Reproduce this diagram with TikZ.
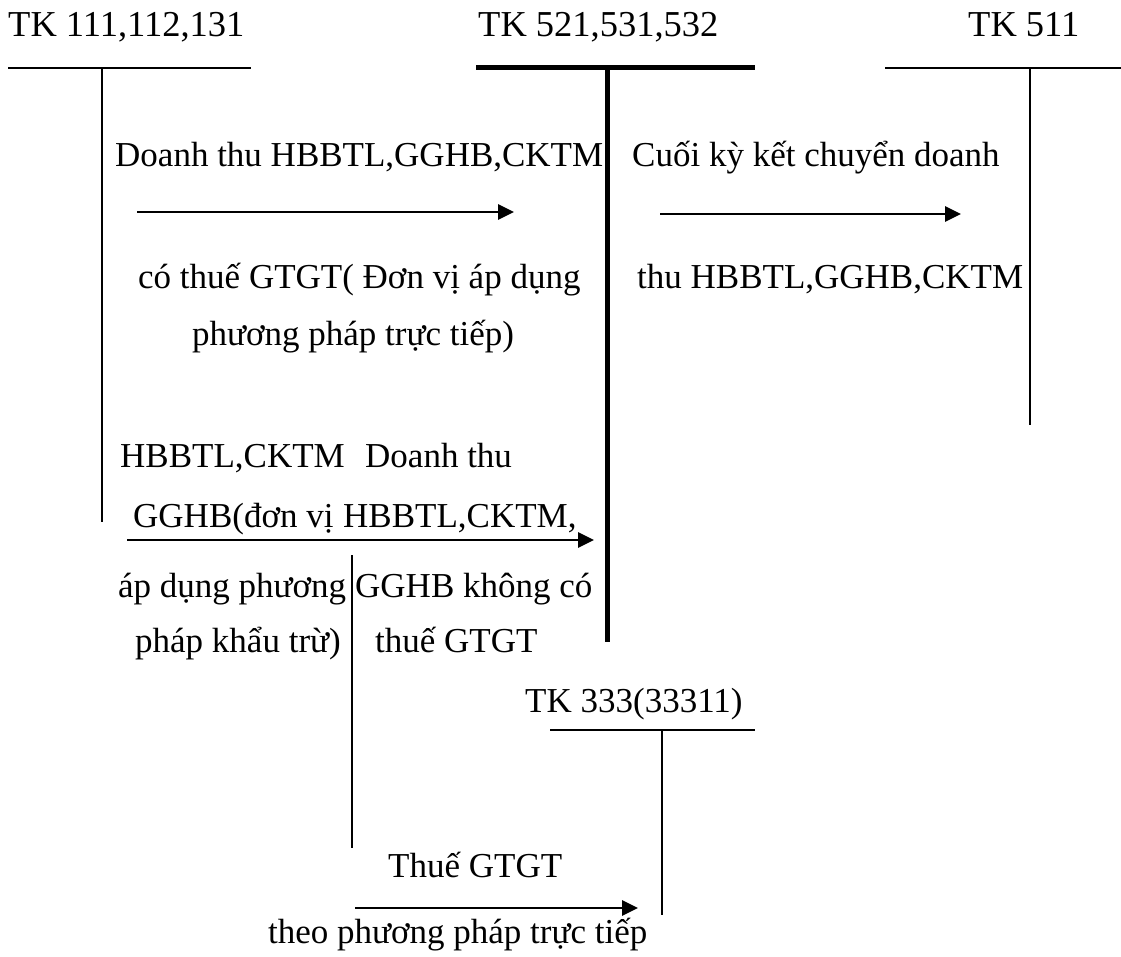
\documentclass[tikz,border=0pt]{standalone}
\usepackage{fontspec}
\setmainfont{Liberation Serif}
\usetikzlibrary{arrows.meta}
\begin{document}
\begin{tikzpicture}[x=1pt,y=-1pt,
  lbl/.style={anchor=base west,inner sep=0pt,font=\fontsize{35}{42}\selectfont},
  head/.style={anchor=base west,inner sep=0pt,font=\fontsize{36.5}{44}\selectfont},
  thinln/.style={line width=1.2pt},
  thickln/.style={line width=5pt},
  flow/.style={line width=2.8pt,-{Triangle[length=16pt,width=15pt]}}]
\useasboundingbox (0,0) rectangle (1121,957);

% account headers
\node[head] (h1) at (8,37) {TK 111,112,131};
\node[head] (h2) at (478,37) {TK 521,531,532};
\node[head] (h3) at (968,37) {TK 511};
\node[lbl] (h4) at (525,712) {TK 333(33311)};

% T-accounts
\draw[thinln] (8,68) -- (251,68) (102,68) -- (102,522);
\draw[thickln] (476,68) -- (755,68);
\draw[thickln] (607,70) -- (607,642);
\draw[thinln] (885,68) -- (1121,68) (1030,68) -- (1030,425);
\draw[thinln] (550,730) -- (755,730) (662,730) -- (662,915);
\draw[thinln] (352,555) -- (352,848);

% entry 1
\node[lbl] (t1a) at (115,167) {Doanh thu HBBTL,GGHB,CKTM};
\node[lbl] (t1b) at (138,289) {có thuế GTGT( Đơn vị áp dụng};
\node[lbl] (t1c) at (192,345) {phương pháp trực tiếp)};
\coordinate (a1s) at (137,212);
\coordinate (a1e) at (514,212);
\draw[flow] (a1s) -- (a1e);

% entry 2
\node[lbl] (t2a) at (632,167) {Cuối kỳ kết chuyển doanh};
\node[lbl] (t2b) at (637,289) {thu HBBTL,GGHB,CKTM};
\coordinate (a2s) at (660,214);
\coordinate (a2e) at (961,214);
\draw[flow] (a2s) -- (a2e);

% entry 3
\node[lbl] (t3a) at (120,467) {HBBTL,CKTM};
\node[lbl] (t3b) at (133,527) {GGHB(đơn vị};
\node[lbl] (t3c) at (118,597) {áp dụng phương};
\node[lbl] (t3d) at (135,652) {pháp khẩu trừ)};
\node[lbl] (t4a) at (365,467) {Doanh thu};
\node[lbl] (t4b) at (343,527) {HBBTL,CKTM,};
\node[lbl] (t4c) at (355,597) {GGHB không có};
\node[lbl] (t4d) at (375,652) {thuế GTGT};
\coordinate (a3s) at (127,540);
\coordinate (a3e) at (594,540);
\draw[flow] (a3s) -- (a3e);

% entry 4
\node[lbl] (t5a) at (388,877) {Thuế GTGT};
\node[lbl] (t5b) at (268,943) {theo phương pháp trực tiếp};
\coordinate (a4s) at (355,908);
\coordinate (a4e) at (638,908);
\draw[flow] (a4s) -- (a4e);
\end{tikzpicture}
\end{document}
